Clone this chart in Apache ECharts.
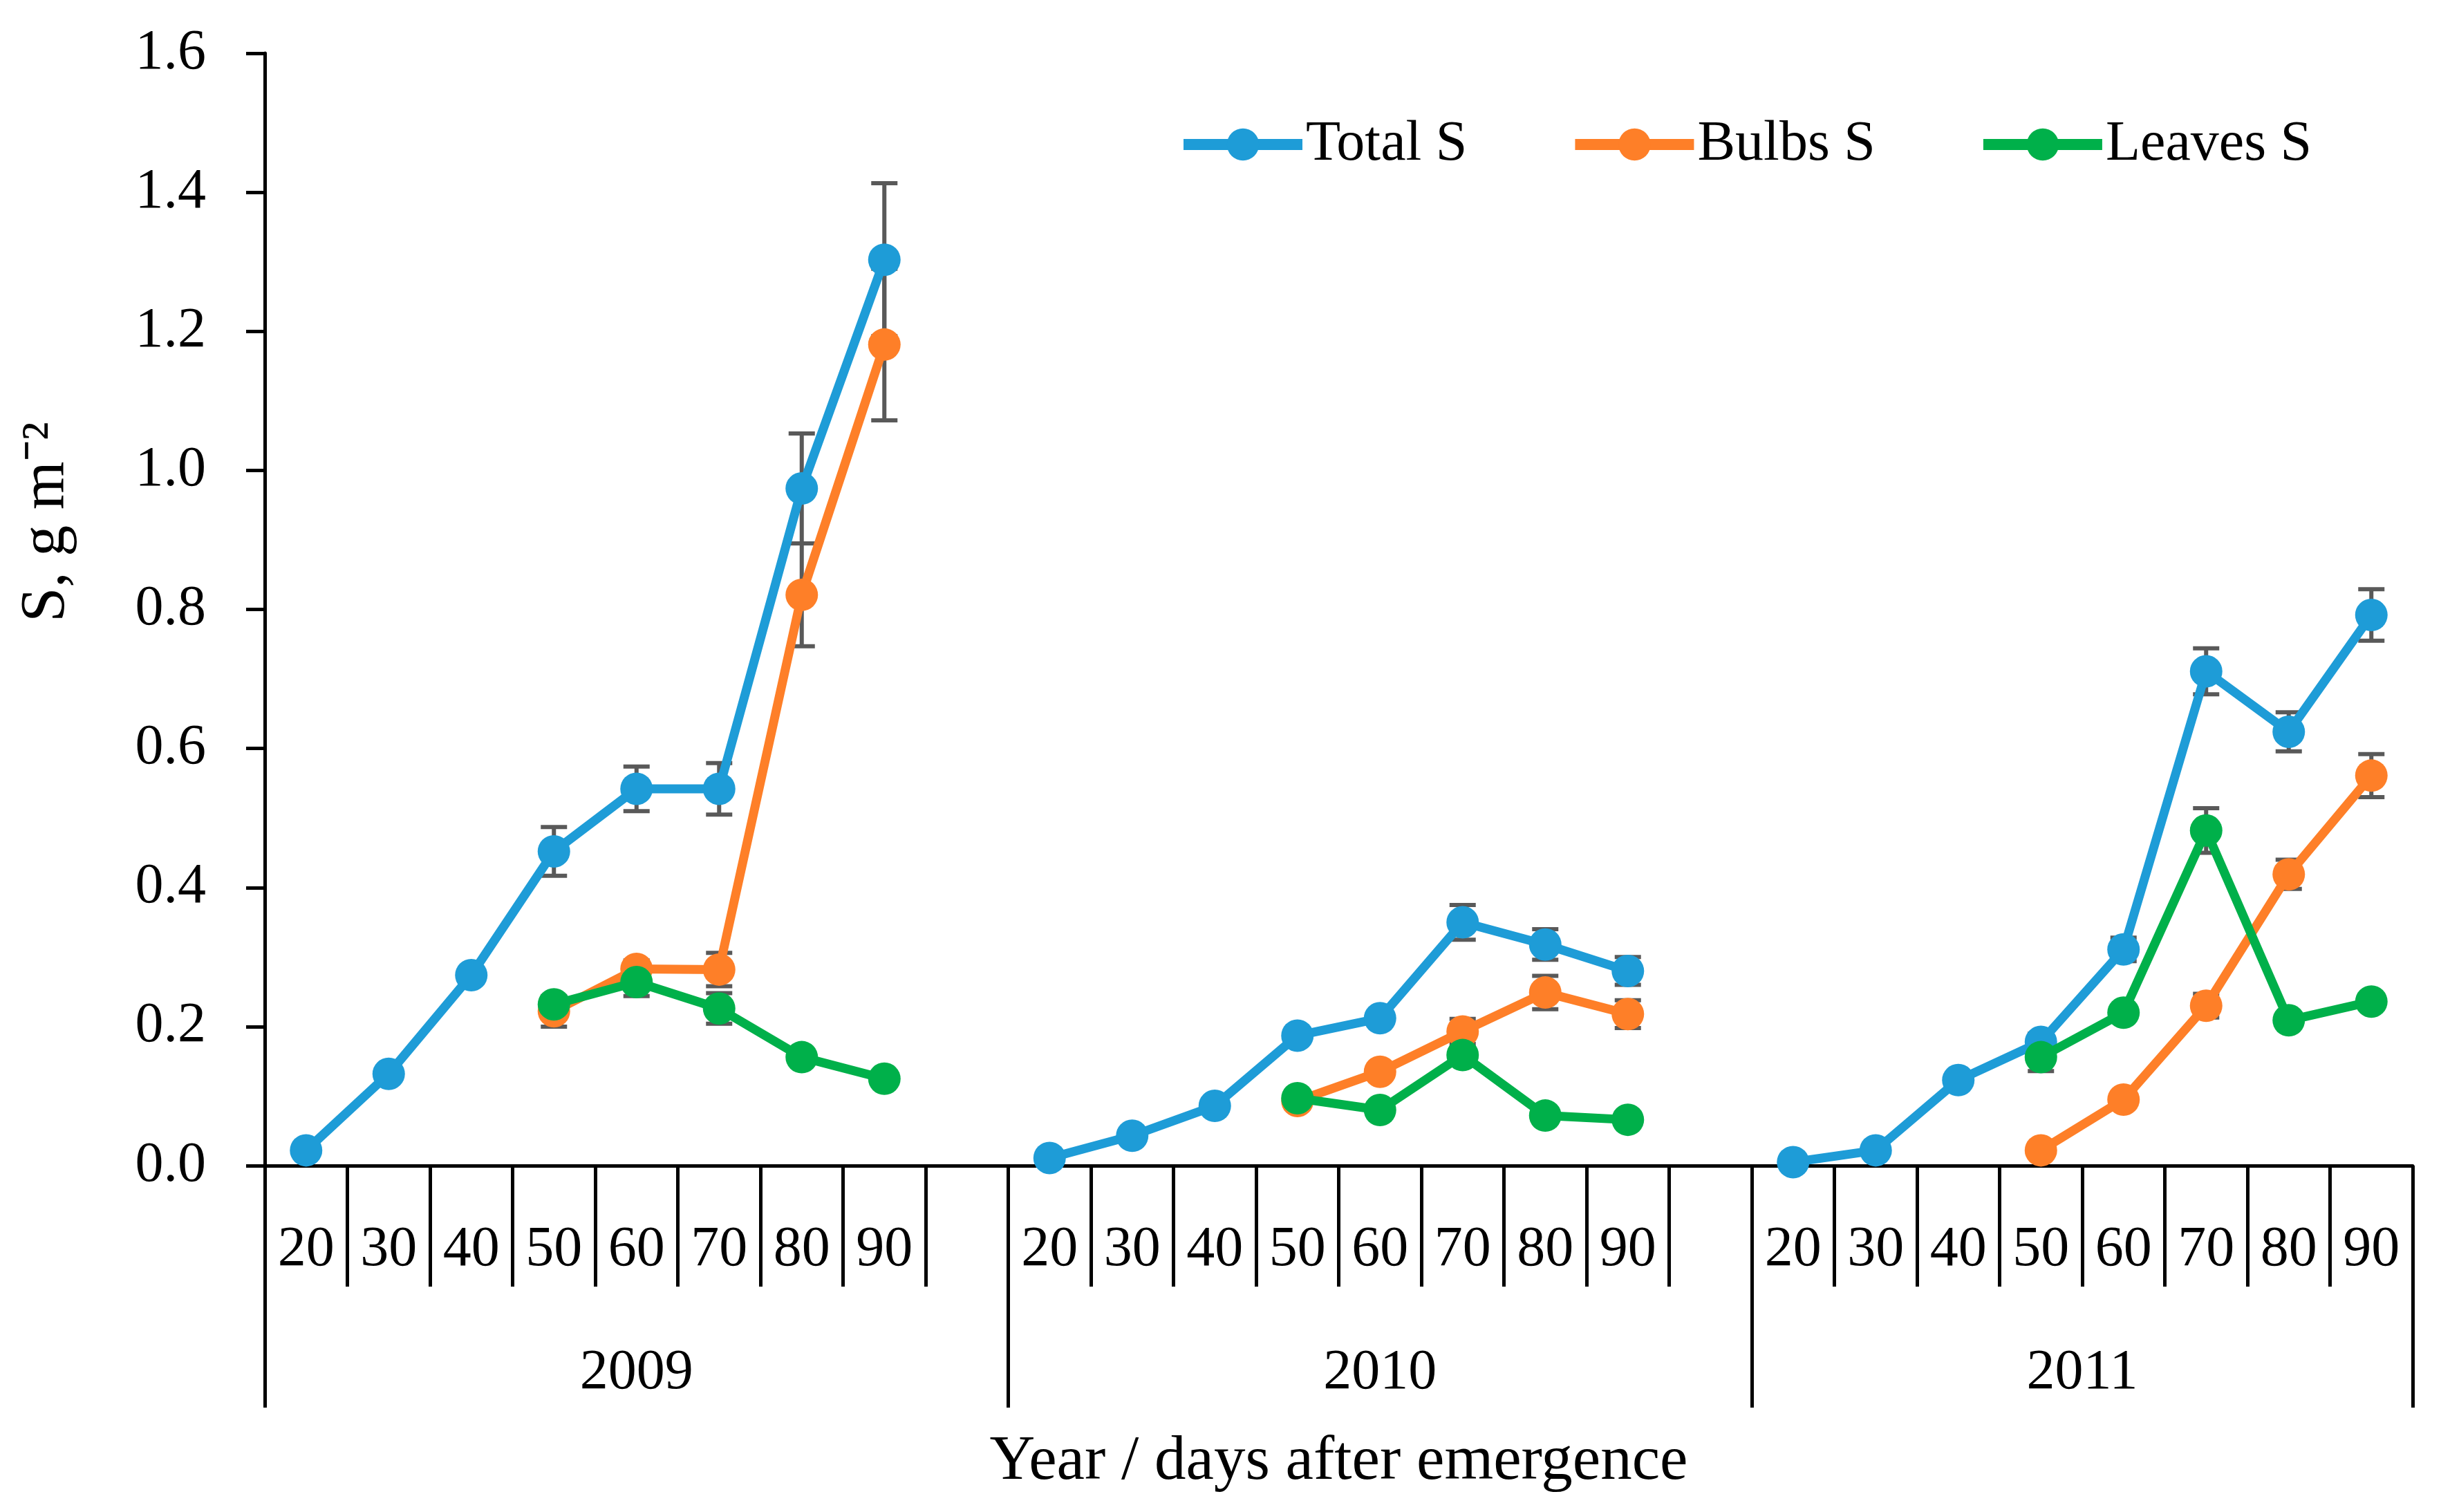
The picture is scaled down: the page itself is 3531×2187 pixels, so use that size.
<!DOCTYPE html>
<html>
<head>
<meta charset="utf-8">
<script src="https://cdn.jsdelivr.net/npm/echarts@6/dist/echarts.min.js"></script>
<style>
html,body{margin:0;padding:0;background:#fff;}
#chart{width:3531px;height:2187px;}
</style>
</head>
<body>
<div id="chart"></div>
<script>
const years = ['2009', '2010', '2011'];
const days = ['20', '30', '40', '50', '60', '70', '80', '90'];
const yTicks = [0, 0.2, 0.4, 0.6, 0.8, 1.0, 1.2, 1.4, 1.6];

const totalS2009 = [0.022, 0.132, 0.274, 0.452, 0.542, 0.542, 0.974, 1.303];
const bulbsS2009 = [null, null, null, 0.222, 0.283, 0.282, 0.821, 1.181];
const leavesS2009 = [null, null, null, 0.232, 0.264, 0.226, 0.156, 0.125];
const totalS2010 = [0.011, 0.043, 0.086, 0.187, 0.212, 0.350, 0.318, 0.280];
const bulbsS2010 = [null, null, null, 0.093, 0.135, 0.193, 0.249, 0.218];
const leavesS2010 = [null, null, null, 0.097, 0.080, 0.159, 0.072, 0.066];
const totalS2011 = [0.005, 0.022, 0.123, 0.178, 0.311, 0.711, 0.624, 0.792];
const bulbsS2011 = [null, null, null, 0.022, 0.095, 0.230, 0.419, 0.561];
const leavesS2011 = [null, null, null, 0.156, 0.220, 0.482, 0.209, 0.236];

const totalErr2009 = [0.005, 0.005, 0.008, 0.035, 0.032, 0.037, 0.079, 0.110];
const bulbsErr2009 = [null, null, null, 0.022, 0.012, 0.024, 0.074, 0.109];
const leavesErr2009 = [null, null, null, 0.010, 0.020, 0.022, 0.005, 0.005];
const totalErr2010 = [0.003, 0.003, 0.005, 0.008, 0.008, 0.025, 0.022, 0.020];
const bulbsErr2010 = [null, null, null, 0.005, 0.008, 0.018, 0.024, 0.020];
const leavesErr2010 = [null, null, null, 0.005, 0.005, 0.008, 0.005, 0.005];
const totalErr2011 = [0.003, 0.003, 0.005, 0.012, 0.017, 0.033, 0.028, 0.037];
const bulbsErr2011 = [null, null, null, 0.003, 0.008, 0.017, 0.021, 0.031];
const leavesErr2011 = [null, null, null, 0.020, 0.008, 0.032, 0.008, 0.008];

const seriesNames = ['Total S', 'Bulbs S', 'Leaves S'];
const colors = ['#1E9CD7', '#FE7F28', '#00B04A'];

// categories: each year's days; 2009 and 2010 are followed by one blank slot
const categories = [];
years.forEach((y, yi) => {
  days.forEach(d => categories.push(y + '|' + d));
  if (yi < years.length - 1) categories.push(y + '|');
});
function joinYears(a, b, c) { return [...a, null, ...b, null, ...c]; }
const totalAll = joinYears(totalS2009, totalS2010, totalS2011);
const bulbsAll = joinYears(bulbsS2009, bulbsS2010, bulbsS2011);
const leavesAll = joinYears(leavesS2009, leavesS2010, leavesS2011);
const totalErrAll = joinYears(totalErr2009, totalErr2010, totalErr2011);
const bulbsErrAll = joinYears(bulbsErr2009, bulbsErr2010, bulbsErr2011);
const leavesErrAll = joinYears(leavesErr2009, leavesErr2010, leavesErr2011);

// group boundaries (in category slots) for the year level of the axis
const groupBounds = [0, 9, 18, 26];
const groupCenters = [4.5, 13.5, 22];

function errData(vals, errs) {
  const out = [];
  vals.forEach((v, i) => {
    if (v != null && errs[i] != null) out.push([i, v - errs[i], v + errs[i]]);
  });
  return out;
}
const errAll = [].concat(
  errData(totalAll, totalErrAll),
  errData(bulbsAll, bulbsErrAll),
  errData(leavesAll, leavesErrAll)
);

const FONT = 'Liberation Serif';
const FS = 82;

function renderErr(params, api) {
  const x = api.value(0);
  const p1 = api.coord([x, api.value(2)]);
  const p2 = api.coord([x, api.value(1)]);
  const hw = 19;
  const style = { stroke: '#595959', lineWidth: 6, fill: null };
  return {
    type: 'group',
    children: [
      { type: 'line', shape: { x1: p1[0], y1: p1[1], x2: p2[0], y2: p2[1] }, style: style },
      { type: 'line', shape: { x1: p1[0] - hw, y1: p1[1], x2: p1[0] + hw, y2: p1[1] }, style: style },
      { type: 'line', shape: { x1: p2[0] - hw, y1: p2[1], x2: p2[0] + hw, y2: p2[1] }, style: style }
    ]
  };
}

const chart = echarts.init(document.getElementById('chart'), null, { renderer: 'canvas' });

const lineSeries = [totalAll, bulbsAll, leavesAll].map((d, i) => ({
  name: seriesNames[i],
  type: 'line',
  data: d,
  xAxisIndex: 0,
  yAxisIndex: 0,
  symbol: 'circle',
  symbolSize: 47,
  showSymbol: true,
  connectNulls: false,
  z: 3 + i,
  lineStyle: { width: 13, color: colors[i] },
  itemStyle: { color: colors[i] },
  emphasis: { disabled: true }
}));

const option = {
  animation: false,
  backgroundColor: '#fff',
  textStyle: { fontFamily: FONT },
  grid: { left: 383, right: 41, top: 77, bottom: 501, containLabel: false },
  legend: {
    data: seriesNames,
    left: 1699,
    top: 163,
    itemWidth: 172,
    itemHeight: 58,
    itemGap: 148,
    lineStyle: { width: 16 },
    textStyle: { fontFamily: FONT, fontSize: 82, color: '#000' }
  },
  xAxis: [
    {
      type: 'category',
      data: categories,
      position: 'bottom',
      boundaryGap: true,
      axisLine: { show: true, onZero: false, lineStyle: { color: '#000', width: 5 } },
      axisTick: { show: true, alignWithLabel: false, interval: 0, length: 175, lineStyle: { color: '#000', width: 5 } },
      axisLabel: {
        interval: 0,
        margin: 81,
        fontFamily: FONT,
        fontSize: FS,
        color: '#000',
        formatter: v => v.split('|')[1]
      },
      splitLine: { show: false }
    },
    {
      type: 'value',
      min: 0,
      max: 26,
      position: 'bottom',
      axisLine: { show: false },
      axisTick: {
        show: true,
        length: 350,
        customValues: groupBounds,
        lineStyle: { color: '#000', width: 5 }
      },
      axisLabel: {
        show: true,
        customValues: groupCenters,
        margin: 259,
        fontFamily: FONT,
        fontSize: FS,
        color: '#000',
        formatter: v => years[groupCenters.indexOf(v)]
      },
      splitLine: { show: false },
      name: 'Year / days after emergence',
      nameLocation: 'middle',
      nameGap: 384,
      nameTextStyle: { fontFamily: FONT, fontSize: 91, color: '#000' }
    }
  ],
  yAxis: {
    type: 'value',
    min: 0,
    max: 1.6,
    interval: 0.2,
    axisLine: { show: true, lineStyle: { color: '#000', width: 5 } },
    axisTick: { show: true, length: 27, lineStyle: { color: '#000', width: 5 } },
    axisLabel: {
      margin: 85,
      fontFamily: FONT,
      fontSize: FS,
      color: '#000',
      formatter: v => v.toFixed(1)
    },
    splitLine: { show: false }
  },
  graphic: [
    {
      type: 'text',
      x: 68,
      y: 755,
      rotation: Math.PI / 2,
      style: {
        text: 'S, g m\u207B\u00B2',
        fontFamily: FONT,
        fontSize: 90,
        fill: '#000',
        align: 'center',
        verticalAlign: 'middle'
      }
    }
  ],
  series: [
    {
      name: 'errors',
      type: 'custom',
      xAxisIndex: 0,
      yAxisIndex: 0,
      renderItem: renderErr,
      data: errAll,
      encode: { x: 0, y: [1, 2] },
      z: 1,
      silent: true
    }
  ].concat(lineSeries)
};

chart.setOption(option);
</script>
</body>
</html>
